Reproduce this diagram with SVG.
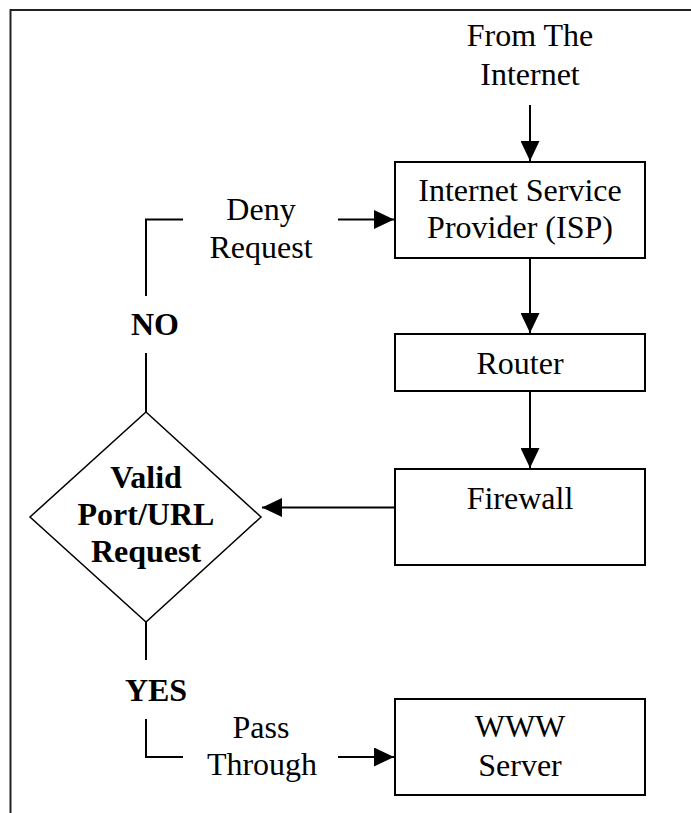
<svg xmlns="http://www.w3.org/2000/svg" width="691" height="813" viewBox="0 0 691 813">
<style>
text{font-family:"Liberation Serif","Times New Roman",serif;font-size:32px;fill:#000;text-anchor:middle}
.b{font-weight:bold}
.box{fill:#fff;stroke:#000;stroke-width:2}
.ln{fill:none;stroke:#000;stroke-width:2}
</style>
<defs>
<marker id="ah" markerWidth="20" markerHeight="19" refX="20" refY="9.5" orient="auto" markerUnits="userSpaceOnUse">
<path d="M0,0 L20,9.5 L0,19 Z" fill="#000"/>
</marker>
</defs>
<rect width="691" height="813" fill="#fff"/>
<path d="M10.5,813 V10 H691" fill="none" stroke="#222" stroke-width="2"/>

<g id="source">
<text x="530" y="46">From The</text>
<text x="530" y="85">Internet</text>
</g>

<g id="isp">
<rect class="box" x="395" y="162" width="250" height="96"/>
<text x="520" y="201">Internet Service</text>
<text x="520" y="238">Provider (ISP)</text>
</g>

<g id="router">
<rect class="box" x="395" y="334" width="250" height="57"/>
<text x="520" y="374">Router</text>
</g>

<g id="firewall">
<rect class="box" x="395" y="469" width="250" height="96"/>
<text x="520" y="509">Firewall</text>
</g>

<g id="decision">
<path d="M146,412 L261,517 L146,622 L30,517 Z" fill="#fff" stroke="#000" stroke-width="1.5"/>
<text class="b" x="146" y="488">Valid</text>
<text class="b" x="146" y="525">Port/URL</text>
<text class="b" x="146" y="562">Request</text>
</g>

<g id="server">
<rect class="box" x="395" y="699" width="250" height="96"/>
<text x="520" y="737">WWW</text>
<text x="520" y="776">Server</text>
</g>

<g id="connectors">
<line class="ln" x1="530" y1="105" x2="530" y2="161" marker-end="url(#ah)"/>
<line class="ln" x1="530" y1="258" x2="530" y2="333" marker-end="url(#ah)"/>
<line class="ln" x1="530" y1="391" x2="530" y2="468" marker-end="url(#ah)"/>
<line class="ln" x1="395" y1="507.5" x2="262" y2="507.5" marker-end="url(#ah)"/>
<polyline class="ln" points="146,412 146,353"/>
<polyline class="ln" points="146,296 146,219.5 183,219.5"/>
<line class="ln" x1="338" y1="219.5" x2="394" y2="219.5" marker-end="url(#ah)"/>
<polyline class="ln" points="146,622 146,660"/>
<polyline class="ln" points="146,719 146,757 183,757"/>
<line class="ln" x1="338" y1="757" x2="394" y2="757" marker-end="url(#ah)"/>
<text x="261" y="220">Deny</text>
<text x="261" y="258">Request</text>
<text class="b" x="155" y="335">NO</text>
<text class="b" x="156" y="701">YES</text>
<text x="261" y="738">Pass</text>
<text x="262" y="775">Through</text>
</g>
</svg>
